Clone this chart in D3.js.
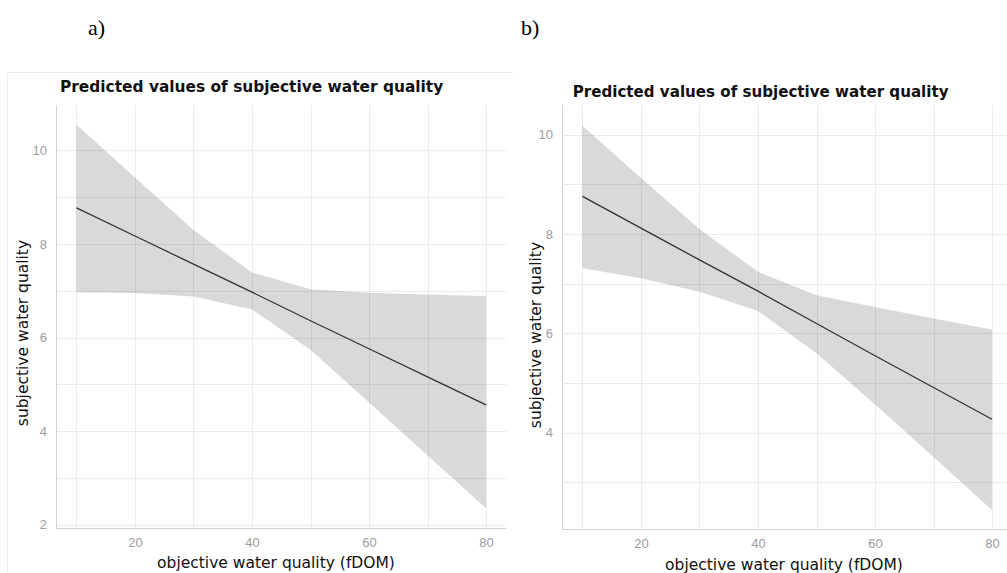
<!DOCTYPE html>
<html>
<head>
<meta charset="utf-8">
<script src="https://cdn.jsdelivr.net/npm/d3@7"></script>
<style>
  html, body { margin: 0; padding: 0; background: #fff; }
  svg { display: block; }
</style>
</head>
<body>
<svg id="chart" width="1007" height="573"></svg>
<script>
// ---------- data ----------
const xValues = [10, 20, 30, 40, 50, 60, 70, 80];

const predictedA = [8.77, 8.17, 7.57, 6.97, 6.36, 5.76, 5.16, 4.56];
const upperA     = [10.55, 9.42, 8.30, 7.39, 7.03, 6.96, 6.92, 6.89];
const lowerA     = [6.97, 6.95, 6.88, 6.60, 5.74, 4.61, 3.48, 2.35];

const predictedB = [8.76, 8.12, 7.48, 6.85, 6.20, 5.55, 4.91, 4.27];
const upperB     = [10.18, 9.13, 8.10, 7.24, 6.77, 6.53, 6.30, 6.08];
const lowerB     = [7.31, 7.11, 6.84, 6.45, 5.60, 4.57, 3.51, 2.44];

const xTicks = [20, 40, 60, 80];
const xMinor = [10, 30, 50, 70];
const yTicksA = [2, 4, 6, 8, 10];
const yTicksB = [4, 6, 8, 10];
const yMinor = [3, 5, 7, 9];

const titleText = "Predicted values of subjective water quality";
const xTitle = "objective water quality (fDOM)";
const yTitle = "subjective water quality";
const panelLabels = ["a)", "b)"];

// ---------- drawing ----------
const svg = d3.select("#chart");
svg.append("rect").attr("width", 1007).attr("height", 573).attr("fill", "#fff");

function drawPanel(cfg) {
  const g = svg.append("g");
  const x = d3.scaleLinear().domain([6.5, 83.5]).range([cfg.left, cfg.left + 450.5]);
  const y = d3.scaleLinear().domain(cfg.yDomain).range([cfg.bottom, cfg.top]);
  const clipId = "clip" + cfg.id;
  svg.append("clipPath").attr("id", clipId).append("rect")
    .attr("x", cfg.left).attr("y", cfg.top)
    .attr("width", cfg.clipRight - cfg.left).attr("height", cfg.bottom - cfg.top);

  if (cfg.frame) {
    g.append("path")
      .attr("d", cfg.frame)
      .attr("fill", "none").attr("stroke", "#ececec").attr("stroke-width", 1);
  }

  const grid = g.append("g").attr("clip-path", `url(#${clipId})`);
  const yGrid = cfg.yTicks.concat(yMinor);
  grid.selectAll(".hg").data(yGrid).enter().append("line")
    .attr("x1", cfg.left).attr("x2", cfg.clipRight)
    .attr("y1", d => Math.round(y(d)) + 0.5).attr("y2", d => Math.round(y(d)) + 0.5)
    .attr("stroke", "#ebebeb").attr("stroke-width", 1);
  grid.selectAll(".vg").data(xTicks.concat(xMinor)).enter().append("line")
    .attr("y1", cfg.top).attr("y2", cfg.bottom)
    .attr("x1", d => Math.round(x(d)) + 0.5).attr("x2", d => Math.round(x(d)) + 0.5)
    .attr("stroke", "#ebebeb").attr("stroke-width", 1);

  const pts = xValues.map((v, i) => ({ x: v, lo: cfg.lower[i], hi: cfg.upper[i], p: cfg.pred[i] }));
  const area = d3.area().x(d => x(d.x)).y0(d => y(d.lo)).y1(d => y(d.hi));
  g.append("path").datum(pts).attr("d", area)
    .attr("fill", "#000").attr("fill-opacity", 0.15);
  const line = d3.line().x(d => x(d.x)).y(d => y(d.p));
  g.append("path").datum(pts).attr("d", line)
    .attr("fill", "none").attr("stroke", "#333").attr("stroke-width", 1.3);

  g.append("line").attr("x1", cfg.left + 0.5).attr("x2", cfg.left + 0.5)
    .attr("y1", cfg.top).attr("y2", cfg.bottom).attr("stroke", "#d4d4d4");
  g.append("line").attr("x1", cfg.left).attr("x2", cfg.clipRight)
    .attr("y1", cfg.bottom + 0.5).attr("y2", cfg.bottom + 0.5).attr("stroke", "#d4d4d4");

  const xAxis = d3.axisBottom(x).tickValues(xTicks).tickSize(0).tickPadding(0);
  const xa = g.append("g").attr("transform", `translate(0,${cfg.bottom + cfg.xLabPad})`).call(xAxis);
  xa.select(".domain").remove();
  xa.selectAll("text").attr("fill", "#9c9c9c")
    .style("font-family", "'Liberation Sans', Arial, sans-serif").style("font-size", "13px");

  const yAxis = d3.axisLeft(y).tickValues(cfg.yTicks).tickSize(0).tickPadding(0);
  const ya = g.append("g").attr("transform", `translate(${cfg.left - 9},0)`).call(yAxis);
  ya.select(".domain").remove();
  ya.selectAll("text").attr("fill", "#9c9c9c")
    .style("font-family", "'Liberation Sans', Arial, sans-serif").style("font-size", "13px");

  g.append("text").attr("x", cfg.titleX).attr("y", cfg.titleY)
    .attr("fill", "#111")
    .style("font-family", "'DejaVu Sans', Verdana, sans-serif")
    .style("font-weight", "bold").style("font-size", cfg.titleSize + "px")
    .text(titleText);

  g.append("text").attr("x", cfg.xTitleX).attr("y", cfg.xTitleY)
    .attr("text-anchor", "middle").attr("fill", "#111")
    .style("font-family", "'DejaVu Sans', Verdana, sans-serif").style("font-size", "15.5px")
    .text(xTitle);
  g.append("text")
    .attr("transform", `translate(${cfg.yTitleX},${cfg.yTitleY}) rotate(-90)`)
    .attr("text-anchor", "middle").attr("fill", "#111")
    .style("font-family", "'DejaVu Sans', Verdana, sans-serif").style("font-size", "15.5px")
    .text(yTitle);

  svg.append("text").attr("x", cfg.labX).attr("y", 35)
    .attr("fill", "#000")
    .style("font-family", "'Liberation Serif', 'Times New Roman', serif").style("font-size", "22px")
    .text(cfg.label);
}

drawPanel({
  id: "A", left: 56, clipRight: 506, top: 105, bottom: 528,
  yDomain: [1.93, 10.97], yTicks: yTicksA,
  pred: predictedA, upper: upperA, lower: lowerA,
  xLabPad: 10, titleX: 60, titleY: 91.5, titleSize: 15.4,
  xTitleX: 276, xTitleY: 568, yTitleX: 28, yTitleY: 333,
  frame: "M7.5,573 V72.5 H513",
  labX: 88, label: panelLabels[0]
});

drawPanel({
  id: "B", left: 562, clipRight: 1007, top: 105, bottom: 529,
  yDomain: [2.06, 10.6], yTicks: yTicksB,
  pred: predictedB, upper: upperB, lower: lowerB,
  xLabPad: 10, titleX: 572.7, titleY: 96.5, titleSize: 15.1,
  xTitleX: 784, xTitleY: 570, yTitleX: 541, yTitleY: 335,
  frame: null,
  labX: 521, label: panelLabels[1]
});
</script>
</body>
</html>
